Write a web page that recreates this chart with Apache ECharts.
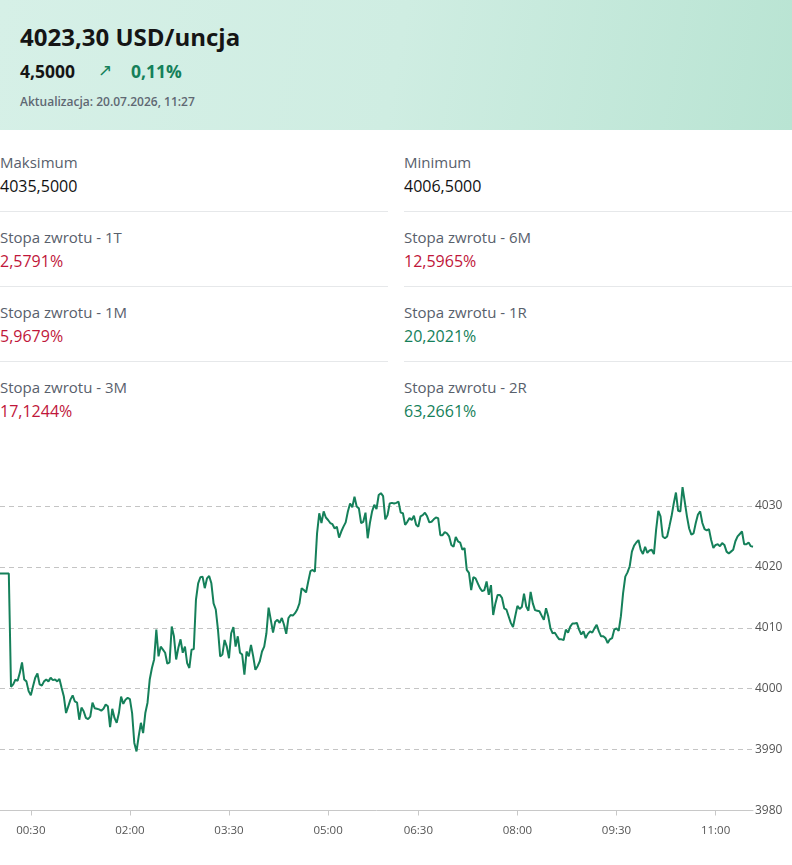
<!DOCTYPE html>
<html lang="pl">
<head>
<meta charset="utf-8">
<title>Złoto USD/uncja</title>
<script src="https://cdn.jsdelivr.net/npm/echarts@6/dist/echarts.min.js"></script>
<style>
    html, body { margin: 0; padding: 0; width: 792px; height: 865px; overflow: hidden; background: #fff; }
    body { font-family: "Open Sans", "Noto Sans", sans-serif; color: #111; position: relative; }
    .head { position: absolute; left: 0; top: 0; width: 792px; height: 130px;
        background: linear-gradient(100deg, #d6f0e7 0%, #cfede2 50%, #b9e4d3 100%); }
    .title { position: absolute; left: 20px; top: 20px; font-size: 24px; font-weight: 700; line-height: 34px; color: #151515; }
    .change { position: absolute; left: 20px; top: 59px; font-size: 17.5px; font-weight: 700; line-height: 24px; color: #151515; }
    .arrow { position: absolute; left: 98px; top: 58px; font-size: 17px; line-height: 24px; color: #15805a; }
    .pct { position: absolute; left: 131px; top: 59px; font-size: 17.5px; font-weight: 700; line-height: 24px; color: #15805a; }
    .upd { position: absolute; left: 20px; top: 94px; font-size: 12px; font-weight: 600; line-height: 16px; color: #5f6873; }
    .lab { font-size: 15px; font-weight: 500; line-height: 20px; color: #58606c; }
    .val { font-size: 16px; line-height: 20px; color: #111; }
    .red { color: #c0163a; }
    .green { color: #15805a; }
    .sep { position: absolute; height: 1px; background: #e6e8ea; width: 388px; }
    #chart { position: absolute; left: 0; top: 450px; width: 792px; height: 415px; }
</style>
</head>
<body>
<div class="head">
    <div class="title">4023,30 USD/uncja</div>
    <div class="change">4,5000</div>
    <div class="arrow">&#8599;</div>
    <div class="pct">0,11%</div>
    <div class="upd">Aktualizacja: 20.07.2026, 11:27</div>
</div>
<div id="stats"></div>
<div id="chart"></div>
<script>
/* statystyki */
var statLabels = ['Maksimum', 'Minimum', 'Stopa zwrotu - 1T', 'Stopa zwrotu - 6M',
    'Stopa zwrotu - 1M', 'Stopa zwrotu - 1R', 'Stopa zwrotu - 3M', 'Stopa zwrotu - 2R'];
var statValues = ['4035,5000', '4006,5000', '2,5791%', '12,5965%',
    '5,9679%', '20,2021%', '17,1244%', '63,2661%'];
var statColors = ['', '', 'red', 'red', 'red', 'green', 'red', 'green'];

/* notowania co 2 minuty */
var startMin = 2, stepMin = 2, gapFrom = 350, gapTo = 358;
var xLabels = ['00:30', '02:00', '03:30', '05:00', '06:30', '08:00', '09:30', '11:00'];
var yTicks = [3980, 3990, 4000, 4010, 4020, 4030];
var prices = [
    4018.9, 4018.9, 4018.9, 4018.9, 4018.9, 4000.3, 4000.7, 4001.5, 4001.3, 4002.6,
    4004.3, 4001.5, 4001.2, 3999.6, 3998.9, 4000.4, 4001.8, 4002.5, 4000.7, 4000.5,
    4001.2, 4001.5, 4001.2, 4001.8, 4001.4, 4001.5, 4001.2, 4001.6, 4000.1, 3998.7,
    3996.0, 3997.1, 3998.2, 3998.9, 3997.9, 3997.7, 3994.9, 3996.9, 3996.3, 3995.2,
    3995.0, 3995.4, 3997.7, 3996.8, 3996.7, 3996.6, 3996.4, 3996.7, 3997.4, 3997.1,
    3993.7, 3996.7, 3995.2, 3994.4, 3996.0, 3998.7, 3997.5, 3998.2, 3998.5, 3998.3,
    3996.0, 3991.1, 3989.7, 3992.2, 3994.4, 3992.7, 3996.0, 3997.7, 4001.5, 4003.4,
    4004.8, 4009.7, 4005.3, 4006.9, 4006.4, 4005.9, 4004.1, 4004.3, 4010.2, 4008.6,
    4004.8, 4006.7, 4008.1, 4005.9, 4006.9, 4004.2, 4003.4, 4006.4, 4006.5, 4014.6,
    4017.3, 4018.3, 4018.4, 4016.5, 4018.1, 4018.5, 4017.3, 4014.0, 4013.0, 4009.7,
    4005.3, 4005.6, 4008.0, 4006.9, 4005.0, 4009.1, 4010.1, 4006.9, 4008.6, 4005.9,
    4005.6, 4002.3, 4006.1, 4005.3, 4007.2, 4005.3, 4003.1, 4003.7, 4004.5, 4006.1,
    4006.9, 4009.1, 4013.3, 4011.3, 4009.2, 4011.0, 4011.3, 4010.8, 4011.6, 4010.5,
    4009.0, 4011.6, 4012.1, 4012.0, 4012.4, 4013.0, 4014.0, 4016.5, 4016.2, 4015.8,
    4017.6, 4019.3, 4019.5, 4019.2, 4025.5, 4028.8, 4027.2, 4029.1, 4028.1, 4027.7,
    4027.2, 4027.0, 4026.3, 4026.6, 4024.8, 4025.8, 4026.6, 4027.3, 4029.1, 4030.4,
    4029.8, 4031.5, 4029.9, 4029.6, 4027.2, 4027.4, 4028.9, 4024.7, 4027.2, 4029.1,
    4030.2, 4029.5, 4031.8, 4032.1, 4031.6, 4027.8, 4028.5, 4030.4, 4030.5, 4030.4,
    4030.5, 4030.7, 4028.9, 4028.8, 4026.9, 4027.4, 4028.0, 4027.7, 4028.4, 4026.9,
    4026.6, 4028.3, 4028.5, 4028.9, 4028.3, 4027.3, 4027.4, 4027.8, 4028.1, 4028.0,
    4025.2, 4025.2, 4025.7, 4025.5, 4025.0, 4023.6, 4023.3, 4024.9, 4024.2, 4024.0,
    4022.8, 4023.1, 4019.5, 4019.0, 4016.2, 4018.3, 4018.1, 4017.3, 4016.5, 4016.0,
    4016.2, 4017.6, 4015.4, 4017.0, 4012.1, 4014.0, 4015.4, 4015.4, 4014.9, 4013.2,
    4013.0, 4011.9, 4010.8, 4010.1, 4011.9, 4013.6, 4013.1, 4013.4, 4015.6, 4013.5,
    4012.8, 4015.9, 4014.0, 4012.9, 4012.8, 4012.7, 4012.0, 4011.3, 4013.2, 4011.9,
    4009.9, 4009.1, 4009.2, 4008.6, 4008.1, 4008.1, 4008.0, 4009.7, 4009.2, 4010.2,
    4010.7, 4010.7, 4010.8, 4009.7, 4008.9, 4009.4, 4008.3, 4009.0, 4009.4, 4009.2,
    4009.9, 4010.5, 4009.4, 4008.6, 4008.6, 4008.3, 4007.5, 4008.1, 4008.3, 4009.7,
    4009.9, 4009.5, 4011.9, 4015.7, 4018.4, 4019.1, 4020.1, 4022.5, 4023.5, 4024.0,
    4024.4, 4022.8, 4022.1, 4023.3, 4022.3, 4022.7, 4022.8, 4022.1, 4026.1, 4029.2,
    4028.3, 4025.0, 4024.7, 4025.0, 4026.6, 4028.3, 4030.4, 4032.2, 4029.2, 4029.1,
    4033.1, 4030.7, 4028.3, 4026.3, 4025.3, 4025.5, 4027.2, 4028.6, 4029.1, 4027.2,
    4026.2, 4026.0, 4026.2, 4024.4, 4023.1, 4023.6, 4023.7, 4023.4, 4023.9, 4023.6,
    4022.5, 4022.2, 4022.5, 4022.8, 4024.2, 4025.0, 4025.4, 4025.8, 4023.7, 4023.7,
    4024.0, 4023.4, 4023.3
];

var renderStats = function () {
    var box = document.getElementById('stats');
    var html = '';
    statLabels.forEach(function (name, i) {
        var left = (i % 2) * 404;
        var top = 152 + Math.floor(i / 2) * 75;
        html += '<div class="lab" style="position:absolute;left:' + left + 'px;top:' + top + 'px">' + name + '</div>';
        html += '<div class="val ' + statColors[i] + '" style="position:absolute;left:' + left + 'px;top:' + (top + 24) + 'px">' + statValues[i] + '</div>';
        if (i < 6) {
            html += '<div class="sep" style="left:' + left + 'px;top:' + (top + 59) + 'px"></div>';
        }
    });
    box.innerHTML = html;
};

var pad = function (n) { return (n < 10 ? '0' : '') + n; };

var lineChart = function () {
    var times = [];
    var t = startMin;
    while (times.length < prices.length) {
        if (t >= gapFrom && t < gapTo) { t = gapTo; }
        times.push(pad(Math.floor(t / 60)) + ':' + pad(t % 60));
        t += stepMin;
    }
    var showLabel = function (idx, value) { return xLabels.indexOf(value) > -1; };

    var myChart = echarts.init(document.getElementById('chart'));
    var options = {
        animation: false,
        grid: { left: 0, right: 39, top: 25.5, bottom: 54.5 },
        xAxis: {
            type: 'category',
            boundaryGap: false,
            data: times,
            axisLine: { lineStyle: { color: '#c8c8c8', width: 1 } },
            axisTick: { show: true, interval: showLabel, length: 5, lineStyle: { color: '#c8c8c8' } },
            axisLabel: { interval: showLabel, margin: 14, color: '#555', fontSize: 11.5, fontFamily: 'Open Sans' },
            splitLine: { show: false }
        },
        yAxis: {
            type: 'value',
            position: 'right',
            min: yTicks[0],
            max: 4035,
            interval: 10,
            axisLine: { show: false },
            axisTick: { show: false },
            axisLabel: {
                showMaxLabel: false, margin: 2, color: '#555', fontSize: 12, fontFamily: 'Open Sans',
                formatter: function (v) { return String(v); }
            },
            splitLine: { showMaxLine: false, showMinLine: false, lineStyle: { color: '#c4c4c4', type: [5, 4], width: 1 } }
        },
        series: [{
            type: 'line',
            data: prices,
            symbol: 'none',
            clip: false,
            lineStyle: { color: '#15805a', width: 2 }
        }]
    };
    myChart.setOption(options);
};

renderStats();
lineChart();
</script>
</body>
</html>
